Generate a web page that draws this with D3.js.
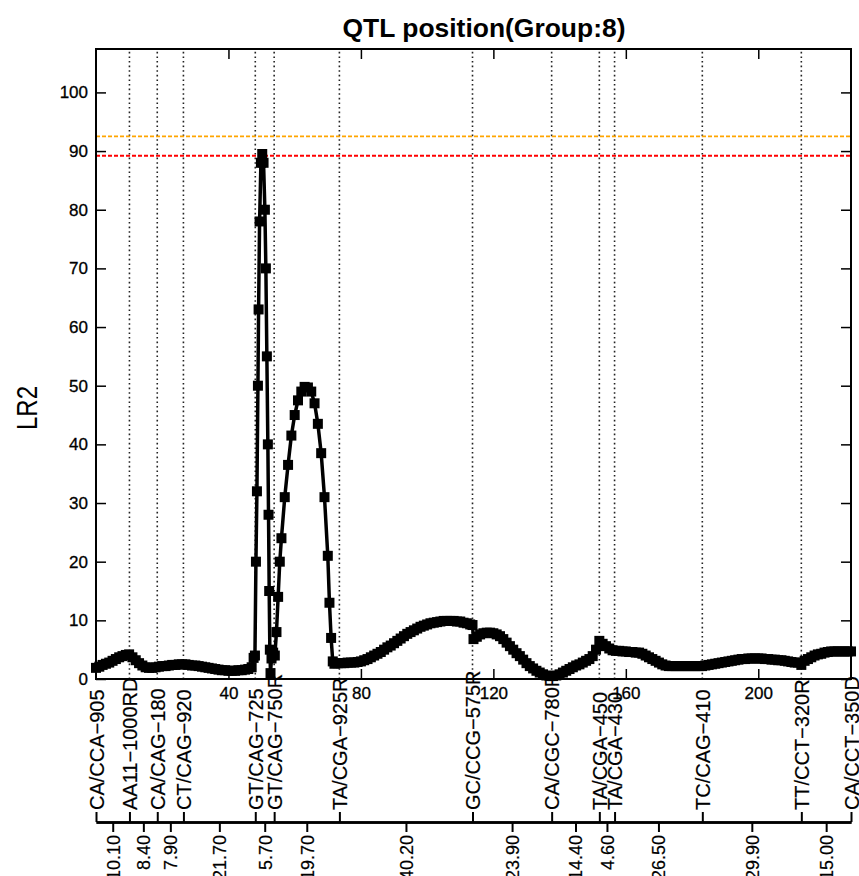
<!DOCTYPE html>
<html lang="en">
<head>
<meta charset="UTF-8">
<title>QTL position</title>
<script src="https://d3js.org/d3.v7.min.js"></script>
<style>
  body { margin: 0; background: #fff; }
  text { font-family: "Liberation Sans", Arial, sans-serif; fill: #000; }
</style>
</head>
<body>
<script>
// marker names and inter-marker distances (cM)
var markerNames = ["CA/CCA\u2212905", "AA11\u22121000RD", "CA/CAG\u2212180", "CT/CAG\u2212920",
  "GT/CAG\u2212725", "GT/CAG\u2212750R", "TA/CGA\u2212925R", "GC/CCG\u2212575R", "CA/CGC\u2212780R",
  "TA/CGA\u2212450", "TA/CGA\u2212430", "TC/CAG\u2212410", "TT/CCT\u2212320R", "CA/CCT\u2212350D"];
var distances = [10.10, 8.40, 7.90, 21.70, 5.70, 19.70, 40.20, 23.90, 14.40, 4.60, 26.50, 29.90, 15.00];

var xTicks = [40, 80, 120, 160, 200];
var yTicks = [0, 10, 20, 30, 40, 50, 60, 70, 80, 90, 100];

// thresholds
var threshOrange = 92.5, threshRed = 89.2;

// LR scan, position (cM) / LR
var qtlPos = [0,1,2,3,4,5,6,7,8,9,10,11,12,13,14,15,16,17,18,19,20,21,22,23,24,25,26,27,28,29,
  30,31,32,33,34,35,36,37,38,39,40,41,42,43,44,45,46,47,47.6,48,
  48.3,48.6,48.9,49.1,49.4,49.8,50.2,50.6,51,51.3,51.6,51.9,52.1,52.3,52.5,52.7,53,53.5,54,54.5,55,55.5,
  56,57,58,59,60,61,62,63,64,65,66,67,68,69,70,70.5,71,71.5,72,73,74,75,76,77,78,79,
  80,81,82,83,84,85,86,87,88,89,90,91,92,93,94,95,96,97,98,99,100,101,102,103,104,105,106,107,108,109,
  110,111,112,113,113.7,114,115,116,117,118,119,120,121,122,123,124,125,126,127,128,129,130,131,132,133,134,
  135,136,137,138,139,140,141,142,143,144,145,146,147,148,149,150,151,152,153,154,155,156,157,158,159,
  160,161,162,163,164,165,166,167,168,169,170,171,172,173,174,175,176,177,178,179,180,181,182,183,184,
  185,186,187,188,189,190,191,192,193,194,195,196,197,198,199,200,201,202,203,204,205,206,207,208,209,
  210,211,212,213,214,215,216,217,218,219,220,221,222,223,224,225,226,227,228];
var qtlLR = [1.9,2.1,2.4,2.6,2.8,3.1,3.4,3.7,3.9,4.1,4.2,3.7,3.2,2.7,2.3,2.0,1.9,1.9,2.0,2.1,2.2,2.2,2.3,2.4,2.4,2.5,2.5,2.5,2.4,2.3,
  2.3,2.2,2.1,2.0,1.9,1.8,1.7,1.6,1.5,1.5,1.4,1.4,1.4,1.5,1.5,1.6,1.7,2.0,3.6,4.0,
  20,32,50,63,78,88,89.5,88,80,70,55,40,28,15,5,1,3.5,4.5,4,8,14,20,
  24,31,36.5,41.5,45,47.5,49,49.8,49.7,49,47,43.5,38.5,31,21,13,7,3,2.6,2.7,2.7,2.7,2.8,2.8,2.8,2.9,
  3.0,3.2,3.4,3.7,4.0,4.3,4.6,5.0,5.4,5.7,6.1,6.5,6.9,7.3,7.7,8.0,8.3,8.6,8.9,9.1,9.3,9.5,9.6,9.7,9.8,9.9,9.9,9.9,9.9,9.8,
  9.8,9.6,9.5,9.3,9.2,6.8,7.2,7.6,7.8,7.9,7.9,7.8,7.6,7.3,6.8,6.2,5.6,5.0,4.4,3.9,3.3,2.7,2.2,1.8,1.4,1.1,
  0.8,0.6,0.5,0.5,0.6,0.8,1.1,1.4,1.7,2.0,2.3,2.5,2.8,3.1,3.4,3.9,5.0,6.5,6.0,5.6,5.2,4.9,4.8,4.8,4.7,
  4.7,4.6,4.6,4.5,4.5,4.3,4.0,3.7,3.4,3.1,2.8,2.5,2.3,2.2,2.2,2.2,2.2,2.2,2.2,2.2,2.2,2.2,2.2,2.2,2.3,
  2.4,2.5,2.6,2.7,2.8,2.9,3.0,3.1,3.2,3.3,3.4,3.4,3.5,3.5,3.5,3.5,3.5,3.4,3.4,3.3,3.3,3.2,3.2,3.1,3.0,
  2.9,2.8,2.8,2.4,3.1,3.4,3.7,4.0,4.2,4.3,4.5,4.6,4.7,4.7,4.7,4.7,4.7,4.7,4.7];

var width = 859, height = 876;
var plotLeft = 96, plotRight = 851, plotTop = 49, plotBottom = 679;

var markerPos = [0].concat(Array.from(d3.cumsum(distances)));
var mids = distances.map(function(d, i) { return markerPos[i] + d / 2; });

var x = d3.scaleLinear().domain([0, 228]).range([plotLeft, plotRight]);
var y = d3.scaleLinear().domain([0, 107.4]).range([plotBottom, plotTop]);

var svg = d3.select("body").append("svg")
  .attr("width", width)
  .attr("height", height);

// title
svg.append("text")
  .attr("x", 484).attr("y", 37)
  .attr("text-anchor", "middle")
  .attr("font-size", 26)
  .attr("font-weight", "bold")
  .attr("textLength", 283)
  .attr("lengthAdjust", "spacingAndGlyphs")
  .text("QTL position(Group:8)");

// y label
svg.append("text")
  .attr("transform", "translate(37,408) rotate(-90)")
  .attr("text-anchor", "middle")
  .attr("font-size", 29)
  .attr("textLength", 44)
  .attr("lengthAdjust", "spacingAndGlyphs")
  .text("LR2");

// marker dotted lines
svg.append("g").selectAll("line")
  .data(markerPos)
  .enter().append("line")
  .attr("x1", function(d) { return x(d); })
  .attr("x2", function(d) { return x(d); })
  .attr("y1", plotBottom).attr("y2", plotTop)
  .attr("stroke", "#222")
  .attr("stroke-width", 1.6)
  .attr("stroke-dasharray", "1.6,3");

// thresholds
svg.append("line")
  .attr("x1", plotLeft).attr("x2", plotRight)
  .attr("y1", y(threshOrange)).attr("y2", y(threshOrange))
  .attr("stroke", "#ffa500").attr("stroke-width", 1.8)
  .attr("stroke-dasharray", "4,2");
svg.append("line")
  .attr("x1", plotLeft).attr("x2", plotRight)
  .attr("y1", y(threshRed)).attr("y2", y(threshRed))
  .attr("stroke", "#ff0000").attr("stroke-width", 1.8)
  .attr("stroke-dasharray", "4,2");

// curve
var pts = qtlPos.map(function(p, i) { return [p, qtlLR[i]]; });
var line = d3.line()
  .x(function(d) { return x(d[0]); })
  .y(function(d) { return y(d[1]); });

svg.append("path")
  .datum(pts)
  .attr("d", line)
  .attr("fill", "none")
  .attr("stroke", "#000")
  .attr("stroke-width", 3.5);

svg.append("g").selectAll("rect")
  .data(pts)
  .enter().append("rect")
  .attr("x", function(d) { return x(d[0]) - 5; })
  .attr("y", function(d) { return y(d[1]) - 5; })
  .attr("width", 10).attr("height", 10)
  .attr("fill", "#000");

// axes (inward ticks)
var fs = 17;
var gx = svg.append("g")
  .attr("transform", "translate(0," + plotBottom + ")")
  .call(d3.axisBottom(x).tickValues(xTicks).tickSize(-10).tickSizeOuter(0).tickPadding(8));
var gy = svg.append("g")
  .attr("transform", "translate(" + plotLeft + ",0)")
  .call(d3.axisLeft(y).tickValues(yTicks).tickSize(-10).tickSizeOuter(0).tickPadding(8));
var gt = svg.append("g")
  .attr("transform", "translate(0," + plotTop + ")")
  .call(d3.axisTop(x).tickValues(xTicks).tickSize(-10).tickSizeOuter(0).tickFormat(""));
var gr = svg.append("g")
  .attr("transform", "translate(" + plotRight + ",0)")
  .call(d3.axisRight(y).tickValues(yTicks).tickSize(-10).tickSizeOuter(0).tickFormat(""));

[gx, gy, gt, gr].forEach(function(g) {
  g.select(".domain").remove();
  g.selectAll("line").attr("stroke", "#000").attr("stroke-width", 1.5);
  g.selectAll("text").attr("font-size", fs).attr("font-family", "Liberation Sans, Arial, sans-serif")
    .attr("fill", "#000").attr("stroke", "#000").attr("stroke-width", 0.3);
});

// frame
svg.append("rect")
  .attr("x", plotLeft).attr("y", plotTop)
  .attr("width", plotRight - plotLeft).attr("height", plotBottom - plotTop)
  .attr("fill", "none")
  .attr("stroke", "#000")
  .attr("stroke-width", 2);

// marker axis below
var mAxisY = 822;
var gm = svg.append("g")
  .attr("transform", "translate(0," + mAxisY + ")")
  .call(d3.axisTop(x).tickValues(markerPos).tickSize(10).tickSizeOuter(0)
    .tickFormat(function(d, i) { return markerNames[i]; }));
gm.selectAll("text")
  .attr("transform", "rotate(-90)")
  .attr("text-anchor", "start")
  .attr("x", 12).attr("y", 0).attr("dy", "0.35em")
  .attr("font-size", 20);

var gd = svg.append("g")
  .attr("transform", "translate(0," + mAxisY + ")")
  .call(d3.axisBottom(x).tickValues(mids).tickSize(10).tickSizeOuter(0)
    .tickFormat(function(d, i) { return distances[i].toFixed(2); }));
gd.selectAll("text")
  .attr("transform", "rotate(-90)")
  .attr("text-anchor", "end")
  .attr("x", -13).attr("y", 0).attr("dy", "0.35em")
  .attr("font-size", 18);

[gm, gd].forEach(function(g) {
  g.select(".domain").attr("stroke", "#000").attr("stroke-width", 2.5);
  g.selectAll("line").attr("stroke", "#000").attr("stroke-width", 2);
  g.selectAll("text").attr("font-family", "Liberation Sans, Arial, sans-serif")
    .attr("fill", "#000").attr("stroke", "#000").attr("stroke-width", 0.2);
});
</script>
</body>
</html>
